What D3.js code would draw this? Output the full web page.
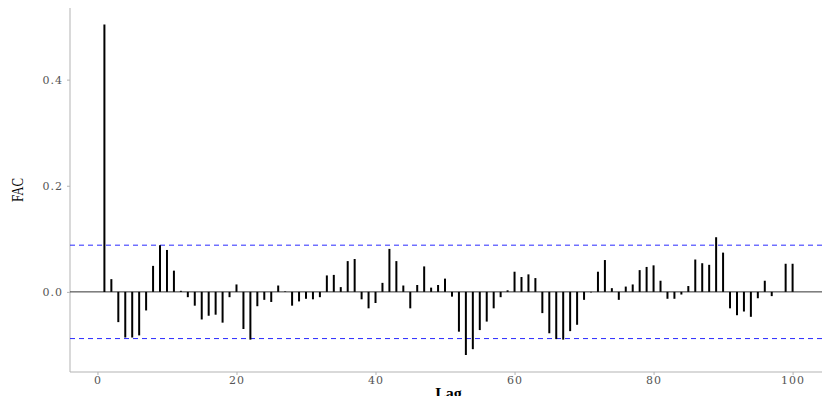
<!DOCTYPE html>
<html lang="en">
  <head>
    <meta charset="utf-8">
    <title>FAC</title>
    <style>
      body { margin: 0; background: #fff; }
      .tick text { font-family: "DejaVu Serif", serif; font-size: 11px; letter-spacing: 1px; fill: #555; }
      .axis path, .axis line { stroke: #b3b3b3; }
    </style>
  </head>
  <body>
    <div id="chart"></div>
    <script src="https://cdn.jsdelivr.net/npm/d3@7/dist/d3.min.js"></script>
    <script>
      // autocorrelation per lag
      var lags = d3.range(1, 101);
      var fac = [
        0.504, 0.024, -0.057, -0.086, -0.086, -0.082, -0.035, 0.049, 0.088, 0.079,
        0.040, 0.002, -0.010, -0.026, -0.052, -0.045, -0.043, -0.058, -0.010, 0.014,
        -0.070, -0.090, -0.027, -0.015, -0.019, 0.012, 0.001, -0.026, -0.018, -0.013,
        -0.014, -0.010, 0.031, 0.032, 0.009, 0.058, 0.062, -0.014, -0.031, -0.021,
        0.017, 0.081, 0.058, 0.012, -0.031, 0.013, 0.048, 0.008, 0.013, 0.025,
        -0.009, -0.075, -0.119, -0.108, -0.072, -0.056, -0.031, -0.010, 0.003, 0.038,
        0.028, 0.033, 0.026, -0.040, -0.078, -0.089, -0.090, -0.074, -0.062, -0.015,
        -0.001, 0.038, 0.060, 0.007, -0.015, 0.010, 0.014, 0.041, 0.047, 0.050,
        0.021, -0.013, -0.013, -0.005, 0.011, 0.061, 0.054, 0.051, 0.103, 0.074,
        -0.031, -0.044, -0.037, -0.047, -0.012, 0.021, -0.008, 0.000, 0.053, 0.053
      ];
      var bound = 0.088;
      var xTicks = [0, 20, 40, 60, 80, 100];
      var yTicks = [0.0, 0.2, 0.4];

      var width = 822, height = 396;
      var pLeft = 70, pTop = 8, pBottom = 372, pRight = 827;

      var svg = d3.select("#chart").append("svg")
          .attr("width", width)
          .attr("height", height);

      var x = d3.scaleLinear().domain([-3.95, 104.95]).range([pLeft, pRight]);
      var y = d3.scaleLinear().domain([-0.151, 0.535]).range([pBottom, pTop]);

      // axes
      svg.append("g")
          .attr("class", "axis")
          .attr("transform", "translate(0," + pBottom + ")")
          .call(d3.axisBottom(x).tickValues(xTicks).tickSize(3).tickPadding(1).tickFormat(d3.format("d")))
          .call(function(g) { g.select(".domain").attr("d", "M" + pLeft + ",0H" + width); });

      svg.append("g")
          .attr("class", "axis")
          .attr("transform", "translate(" + pLeft + ",0)")
          .call(d3.axisLeft(y).tickValues(yTicks).tickSize(3).tickPadding(4).tickFormat(d3.format(".1f")))
          .call(function(g) { g.select(".domain").attr("d", "M0," + pTop + "V" + pBottom); });

      svg.selectAll(".axis .tick line").attr("stroke", "#333");

      // zero line
      svg.append("line")
          .attr("x1", pLeft).attr("x2", width)
          .attr("y1", y(0)).attr("y2", y(0))
          .attr("stroke", "#333").attr("stroke-width", 1);

      // confidence bounds
      svg.selectAll(".bound")
          .data([bound, -bound])
          .enter().append("line")
            .attr("class", "bound")
            .attr("x1", pLeft).attr("x2", width)
            .attr("y1", function(d) { return y(d); })
            .attr("y2", function(d) { return y(d); })
            .attr("stroke", "#2a2aff")
            .attr("stroke-width", 1)
            .attr("stroke-dasharray", "5,4");

      // bars
      svg.selectAll(".bar")
          .data(fac)
          .enter().append("line")
            .attr("class", "bar")
            .attr("x1", function(d, i) { return x(lags[i]); })
            .attr("x2", function(d, i) { return x(lags[i]); })
            .attr("y1", y(0))
            .attr("y2", function(d) { return y(d); })
            .attr("stroke", "#000")
            .attr("stroke-width", 2);

      // labels
      svg.append("text")
          .attr("x", (pLeft + pRight) / 2)
          .attr("y", 399)
          .attr("text-anchor", "middle")
          .style("font-family", "Liberation Serif, serif")
          .style("font-weight", "bold")
          .style("font-size", "16px")
          .text("Lag");

      svg.append("text")
          .attr("transform", "translate(23," + (pTop + pBottom) / 2 + ") rotate(-90)")
          .attr("text-anchor", "middle")
          .attr("textLength", 24)
          .attr("lengthAdjust", "spacingAndGlyphs")
          .style("font-family", "Liberation Serif, serif")
          .style("font-size", "17px")
          .text("FAC");
    </script>
  </body>
</html>
